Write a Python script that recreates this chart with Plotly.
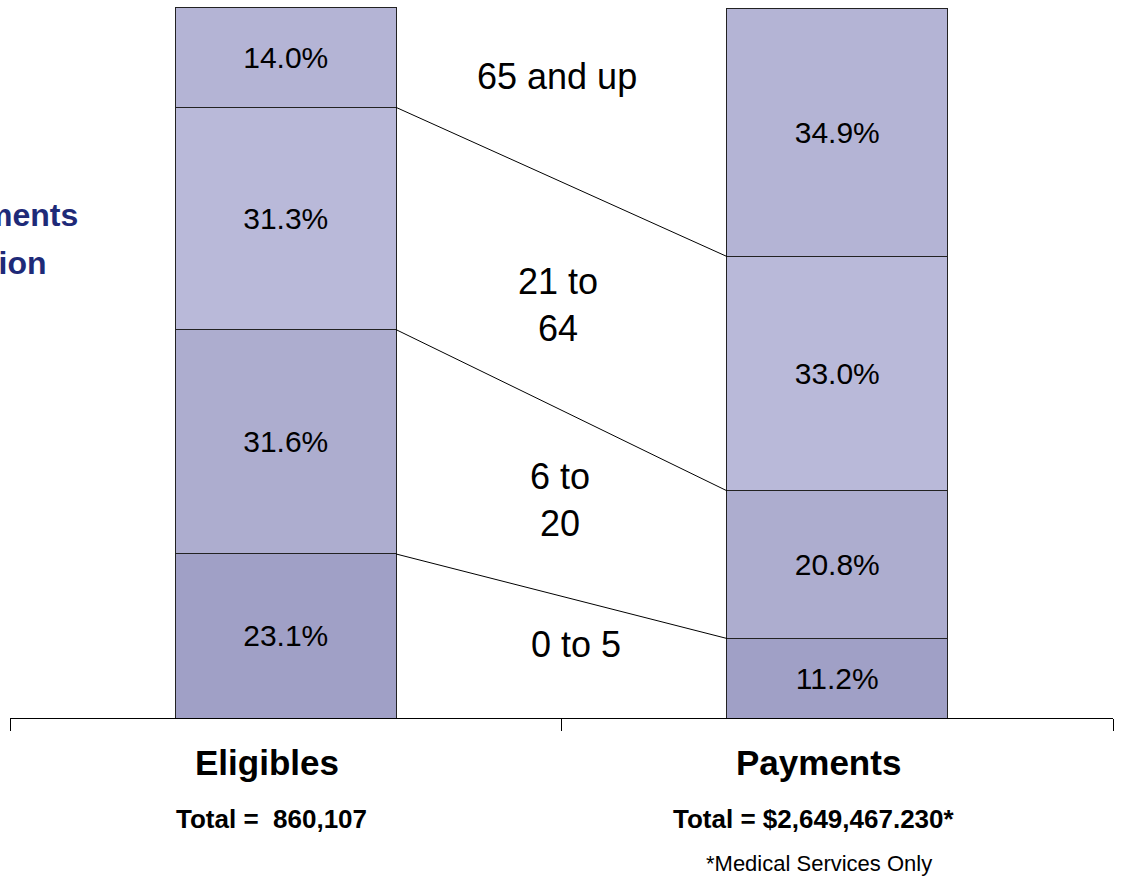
import plotly.graph_objects as go

# ---- data ----
categories = ["Eligibles", "Payments"]
age_groups = ["0 to 5", "6 to 20", "21 to 64", "65 and up"]
eligibles_pct = [23.1, 31.6, 31.3, 14.0]
payments_pct = [11.2, 20.8, 33.0, 34.9]
eligibles_total_label = "Total =&nbsp;&nbsp;860,107"
payments_total_label = "Total = $2,649,467.230*"
footnote = "*Medical Services Only"
age_labels = ["0 to 5", "6 to<br>20", "21 to<br>64", "65 and up"]
seg_colors = ["#a0a0c6", "#adadcf", "#b9b9d9", "#b4b4d5"]

FONT = "Liberation Sans, Arial, sans-serif"
W, H = 1123, 882
ML, MR, MT, MB = 10, 10, 7, 164
BAR_W = 0.4

fig = go.Figure()
for i, grp in enumerate(age_groups):
    fig.add_trace(go.Bar(
        x=[0, 1],
        y=[eligibles_pct[i], payments_pct[i]],
        width=BAR_W,
        name=grp,
        marker=dict(color=seg_colors[i], line=dict(color="#222222", width=1)),
        text=[f"{eligibles_pct[i]:.1f}%", f"{payments_pct[i]:.1f}%"],
        textposition="inside",
        insidetextanchor="middle",
        constraintext="none",
        textangle=0,
        textfont=dict(family=FONT, size=30, color="#000000"),
        showlegend=False,
        hoverinfo="skip",
    ))

# connector lines between segment boundaries
cum_e, cum_p = [], []
se = sp = 0.0
for e, p in zip(eligibles_pct, payments_pct):
    se += e
    sp += p
    cum_e.append(se)
    cum_p.append(sp)
for i in range(len(age_groups) - 1):
    fig.add_trace(go.Scatter(
        x=[0 + BAR_W / 2, 1 - BAR_W / 2],
        y=[cum_e[i], cum_p[i]],
        mode="lines",
        line=dict(color="#000000", width=1),
        showlegend=False,
        hoverinfo="skip",
    ))

plot_h = H - MT - MB
def py_to_paper(py):
    return (H - MB - py) / plot_h

annotations = []
# age group labels between bars
age_label_pos = [(0.526, 10.3), (0.497, 30.7), (0.494, 58.2), (0.492, 90.3)]
for lab, (ax, ay) in zip(age_labels, age_label_pos):
    annotations.append(dict(x=ax, y=ay, xref="x", yref="y", text=lab, showarrow=False,
                            font=dict(family=FONT, size=36, color="#000000"),
                            xanchor="center", yanchor="middle", align="center"))

# category labels and totals
for ci, cat in enumerate(categories):
    annotations.append(dict(x=ci, y=py_to_paper(762), xref="x", yref="paper", xshift=-19,
                            text=f"<b>{cat}</b>", showarrow=False,
                            font=dict(family=FONT, size=35, color="#000000"),
                            xanchor="center", yanchor="middle"))
annotations.append(dict(x=0, y=py_to_paper(819), xref="x", yref="paper", xshift=-14,
                        text=f"<b>{eligibles_total_label}</b>", showarrow=False,
                        font=dict(family=FONT, size=26, color="#000000"),
                        xanchor="center", yanchor="middle"))
annotations.append(dict(x=1, y=py_to_paper(819), xref="x", yref="paper", xshift=-23,
                        text=f"<b>{payments_total_label}</b>", showarrow=False,
                        font=dict(family=FONT, size=26, color="#000000"),
                        xanchor="center", yanchor="middle"))
annotations.append(dict(x=1, y=py_to_paper(863), xref="x", yref="paper", xshift=-18,
                        text=footnote, showarrow=False,
                        font=dict(family=FONT, size=22, color="#000000"),
                        xanchor="center", yanchor="middle"))

# left-side title (cut off at the page edge)
annotations.append(dict(x=80, y=215, xref="paper", yref="paper", text="<b>Payments</b>",
                        showarrow=False, xanchor="right", yanchor="middle",
                        font=dict(family=FONT, size=32, color="#1e2a78")))
annotations.append(dict(x=49, y=263, xref="paper", yref="paper", text="<b>Distribution</b>",
                        showarrow=False, xanchor="right", yanchor="middle",
                        font=dict(family=FONT, size=32, color="#1e2a78")))
# convert the two title annotations from pixel to paper coords
plot_w = W - ML - MR
for a in annotations[-2:]:
    a["x"] = (a["x"] - ML) / plot_w
    a["y"] = py_to_paper(a["y"])

fig.update_layout(
    width=W, height=H,
    margin=dict(l=ML, r=MR, t=MT, b=MB, pad=0),
    barmode="stack",
    plot_bgcolor="#ffffff",
    paper_bgcolor="#ffffff",
    font=dict(family=FONT),
    annotations=annotations,
    xaxis=dict(range=[-0.5, 1.5], tickvals=[-0.5, 0.5, 1.5], showticklabels=False,
               ticks="outside", ticklen=12, tickcolor="#000000", tickwidth=1,
               showline=True, linecolor="#000000", linewidth=1,
               showgrid=False, zeroline=False, fixedrange=True),
    yaxis=dict(range=[0, 100.14], visible=False, showgrid=False, zeroline=False,
               fixedrange=True),
)

fig.write_html("out.html", config={"displayModeBar": False})
